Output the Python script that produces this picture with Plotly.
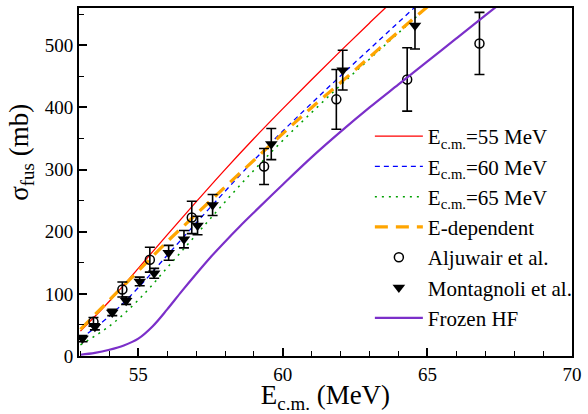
import plotly.graph_objects as go

# ---- data ----
curve_x = [53, 54, 55, 56, 57, 58, 59, 60, 61, 62, 63, 64, 65]
red_y = [40, 88, 141, 195, 248, 300, 350, 398, 445, 491, 536, 580, 622]
blue_y = [28, 64, 110, 162, 214, 265, 315, 362, 407, 451, 494, 537, 580]
green_y = [18, 48, 90, 142, 195, 248, 299, 347, 392, 436, 478, 520, 562]
orange_y = [43, 90, 137, 184, 228, 272, 315, 358, 400, 440, 481, 522, 562]

hf_x = [53, 53.5, 54, 54.5, 55, 55.5, 56, 56.5, 57, 57.5, 58, 58.5, 59, 60, 61, 62, 63, 64, 65, 66, 67, 68]
hf_y = [2, 5, 10, 17, 28, 48, 75, 104, 132, 159, 184, 208, 231, 276, 320, 361, 400, 437, 474, 511, 548, 585]

alj_x = [53.45, 54.45, 55.40, 56.85, 59.35, 61.85, 64.30, 66.80]
alj_y = [55, 107, 155, 223, 305, 413, 445, 503]
alj_err = [7, 12, 20, 26, 29, 48, 51, 50]

mont_x = [53.07, 53.50, 54.10, 54.58, 55.05, 55.55, 56.05, 56.58, 57.05, 57.57, 59.60, 62.07, 64.57]
mont_y = [28, 47, 70, 89, 120, 133, 166, 188, 210, 243, 341, 460, 532]
mont_err = [5, 5, 5, 6, 7, 8, 12, 14, 15, 17, 25, 32, 38]

x_ticks = [55, 60, 65, 70]
y_ticks = [0, 100, 200, 300, 400, 500]

FONT = "Liberation Serif, Times New Roman, Times, DejaVu Serif, serif"

fig = go.Figure()
fig.add_trace(go.Scatter(x=curve_x, y=red_y, mode="lines", line=dict(color="red", width=1.3, shape="spline"),
                         name="E<sub>c.m.</sub>=55 MeV"))
fig.add_trace(go.Scatter(x=curve_x, y=blue_y, mode="lines", line=dict(color="blue", width=1.3, dash="5px,4px", shape="spline"),
                         name="E<sub>c.m.</sub>=60 MeV"))
fig.add_trace(go.Scatter(x=curve_x, y=green_y, mode="lines", line=dict(color="#00a000", width=1.5, dash="2px,5px", shape="spline"),
                         name="E<sub>c.m.</sub>=65 MeV"))
fig.add_trace(go.Scatter(x=curve_x, y=orange_y, mode="lines", line=dict(color="orange", width=3.2, dash="13px,8px", shape="spline"),
                         name="E-dependent"))
fig.add_trace(go.Scatter(x=alj_x, y=alj_y, mode="markers",
                         marker=dict(symbol="circle-open", size=9, color="black", line=dict(width=1.5)),
                         error_y=dict(type="data", array=alj_err, color="black", thickness=1.6, width=5),
                         name="Aljuwair et al."))
fig.add_trace(go.Scatter(x=mont_x, y=mont_y, mode="markers",
                         marker=dict(symbol="triangle-down", size=11, color="black"),
                         error_y=dict(type="data", array=mont_err, color="black", thickness=1.6, width=5),
                         name="Montagnoli et al."))
fig.add_trace(go.Scatter(x=hf_x, y=hf_y, mode="lines", line=dict(color="#7b2fc9", width=2.2, shape="spline"),
                         name="Frozen HF"))

axis_common = dict(showgrid=False, zeroline=False, showline=True, linecolor="black", linewidth=2,
                   mirror=True, ticks="inside", ticklen=8, tickwidth=1.5, tickcolor="black",
                   tickfont=dict(family=FONT, size=19, color="black"))

fig.update_xaxes(range=[52.95, 70], tickvals=x_ticks,
                 minor=dict(ticks="inside", ticklen=5, tickwidth=1.2, tickcolor="black", dtick=1),
                 title=dict(text="E<sub>c.m.</sub> (MeV)", font=dict(family=FONT, size=27, color="black"), standoff=4),
                 **axis_common)
fig.update_yaxes(range=[0, 560], tickvals=y_ticks,
                 minor=dict(ticks="inside", ticklen=5, tickwidth=1.2, tickcolor="black", dtick=50),
                 **axis_common)

fig.add_annotation(text="σ<sub>fus</sub> (mb)", textangle=-90, xref="paper", yref="paper",
                   x=-0.117, y=0.585, xanchor="center", yanchor="middle", showarrow=False,
                   font=dict(family=FONT, size=27, color="black"))

fig.update_layout(
    width=588, height=414,
    margin=dict(l=79, r=12, t=6, b=56),
    plot_bgcolor="white", paper_bgcolor="white",
    font=dict(family=FONT, color="black"),
    legend=dict(x=0.59, y=0.69, xanchor="left", yanchor="top", bgcolor="rgba(0,0,0,0)",
                font=dict(family=FONT, size=21, color="black"), itemwidth=48, tracegroupgap=0),
)

fig.write_html("out.html", config={"displayModeBar": False},
               post_script="document.body.style.margin='0';document.body.style.padding='0';")
